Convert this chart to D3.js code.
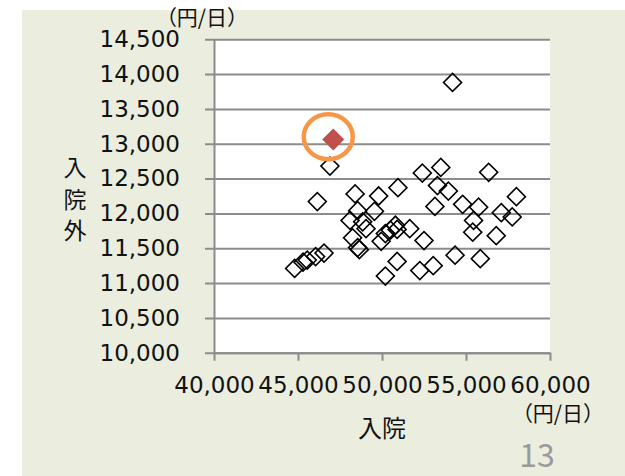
<!DOCTYPE html>
<html>
<head>
<meta charset="utf-8">
<script src="https://cdn.jsdelivr.net/npm/d3@7"></script>
<style>
  body { margin: 0; background: #fff; }
  svg { display: block; font-family: "Noto Sans CJK JP", "Noto Sans", sans-serif; }
  .num text { font-family: "DejaVu Sans", sans-serif; }
</style>
</head>
<body>
<svg id="chart"></svg>
<script>
let width = 625, height = 476;

// 入院 (x) / 入院外 (y), 円/日
let inpatient = [54200, 46900, 46150, 48400, 49800, 50950, 48550, 49550, 48100, 48850,
                 49050, 48250, 48550, 48650, 49950, 50200, 50500, 50800, 50900, 51650,
                 44800, 45300, 45550, 46050, 46550, 50900, 50200, 52400, 53500, 53300,
                 53950, 53150, 54800, 55750, 56350, 58000, 57100, 57750, 55450, 55400,
                 56800, 52500, 54350, 55850, 53050, 52250];
let outpatient = [13880, 12680, 12170, 12280, 12250, 12370, 12040, 12030, 11900, 11880,
                  11780, 11650, 11510, 11480, 11600, 11710, 11760, 11830, 11770, 11780,
                  11210, 11300, 11330, 11380, 11430, 11310, 11100, 12580, 12660, 12400,
                  12320, 12100, 12130, 12090, 12590, 12240, 12010, 11950, 11900, 11730,
                  11680, 11610, 11400, 11350, 11250, 11180];
let highlight = [47100, 13060];
let ring = [46800, 13100];

let xTicks = [40000, 45000, 50000, 55000, 60000];
let yTicks = [10000, 10500, 11000, 11500, 12000, 12500, 13000, 13500, 14000, 14500];

let svg = d3.select("#chart")
    .attr("width", width)
    .attr("height", height);

// slide background
svg.append("rect")
    .attr("x", 22).attr("y", 10)
    .attr("width", width - 22).attr("height", height - 10)
    .attr("fill", "#ebeede");

let plotL = 214, plotR = 550, plotT = 39.3, plotB = 352.7;

let x = d3.scaleLinear().domain([40000, 60000]).range([plotL, plotR]);
let y = d3.scaleLinear().domain([10000, 14500]).range([plotB, plotT]);

svg.append("rect")
    .attr("x", plotL).attr("y", plotT)
    .attr("width", plotR - plotL).attr("height", plotB - plotT)
    .attr("fill", "#fff");

let fmt = d3.format(",");

// y axis + gridlines
let yAxis = svg.append("g")
    .attr("class", "num")
    .attr("transform", "translate(" + plotL + ",0)")
    .call(d3.axisLeft(y).tickValues(yTicks).tickFormat(fmt)
        .tickSizeInner(-(plotR - plotL)).tickSizeOuter(0).tickPadding(34));
yAxis.attr("font-family", null).attr("font-size", 23);
yAxis.select(".domain").attr("stroke", "#8c8c8c").attr("stroke-width", 2);
yAxis.selectAll(".tick line")
    .attr("x1", -9)
    .attr("stroke", "#8c8c8c").attr("stroke-width", 2);
yAxis.selectAll(".tick text").attr("fill", "#111");

// x axis
let xAxis = svg.append("g")
    .attr("class", "num")
    .attr("transform", "translate(0," + plotB + ")")
    .call(d3.axisBottom(x).tickValues(xTicks).tickFormat(fmt)
        .tickSizeInner(8).tickSizeOuter(0).tickPadding(16));
xAxis.attr("font-family", null).attr("font-size", 23);
xAxis.select(".domain").attr("stroke", "#8c8c8c").attr("stroke-width", 2);
xAxis.selectAll(".tick line").attr("stroke", "#8c8c8c").attr("stroke-width", 2);
xAxis.selectAll(".tick text").attr("fill", "#111");

// points
let pts = inpatient.map((v, i) => [v, outpatient[i]]);
let diamond = d3.symbol(d3.symbolSquare, 162);
svg.append("g")
    .selectAll("path")
    .data(pts)
    .enter()
    .append("path")
    .attr("d", diamond)
    .attr("transform", d => "translate(" + x(d[0]) + "," + y(d[1]) + ") rotate(45)")
    .attr("fill", "none")
    .attr("stroke", "#000")
    .attr("stroke-width", 1.6);

svg.append("path")
    .attr("d", d3.symbol(d3.symbolSquare, 242))
    .attr("transform", "translate(" + x(highlight[0]) + "," + y(highlight[1]) + ") rotate(45)")
    .attr("fill", "#c0504d");

svg.append("ellipse")
    .attr("cx", x(ring[0])).attr("cy", y(ring[1]))
    .attr("rx", 24.5).attr("ry", 22.5)
    .attr("fill", "none")
    .attr("stroke", "#f79646")
    .attr("stroke-width", 4.5);

// labels
svg.append("text")
    .attr("x", 202).attr("y", 25)
    .attr("text-anchor", "middle")
    .attr("font-size", 21).attr("fill", "#111")
    .text("（円/日）");

svg.append("text")
    .attr("x", 558).attr("y", 421)
    .attr("text-anchor", "middle")
    .attr("font-size", 21).attr("fill", "#111")
    .text("（円/日）");

svg.append("text")
    .attr("x", 382).attr("y", 437)
    .attr("text-anchor", "middle")
    .attr("font-size", 24).attr("fill", "#111")
    .text("入院");

svg.append("g")
    .selectAll("text")
    .data(["入", "院", "外"])
    .enter()
    .append("text")
    .attr("x", 75)
    .attr("y", (d, i) => 176 + i * 31.5)
    .attr("text-anchor", "middle")
    .attr("font-size", 23).attr("fill", "#111")
    .text(d => d);

svg.append("text")
    .attr("x", 537).attr("y", 467)
    .attr("text-anchor", "middle")
    .attr("font-size", 32).attr("fill", "#9a9a9a")
    .text("13");
</script>
</body>
</html>
